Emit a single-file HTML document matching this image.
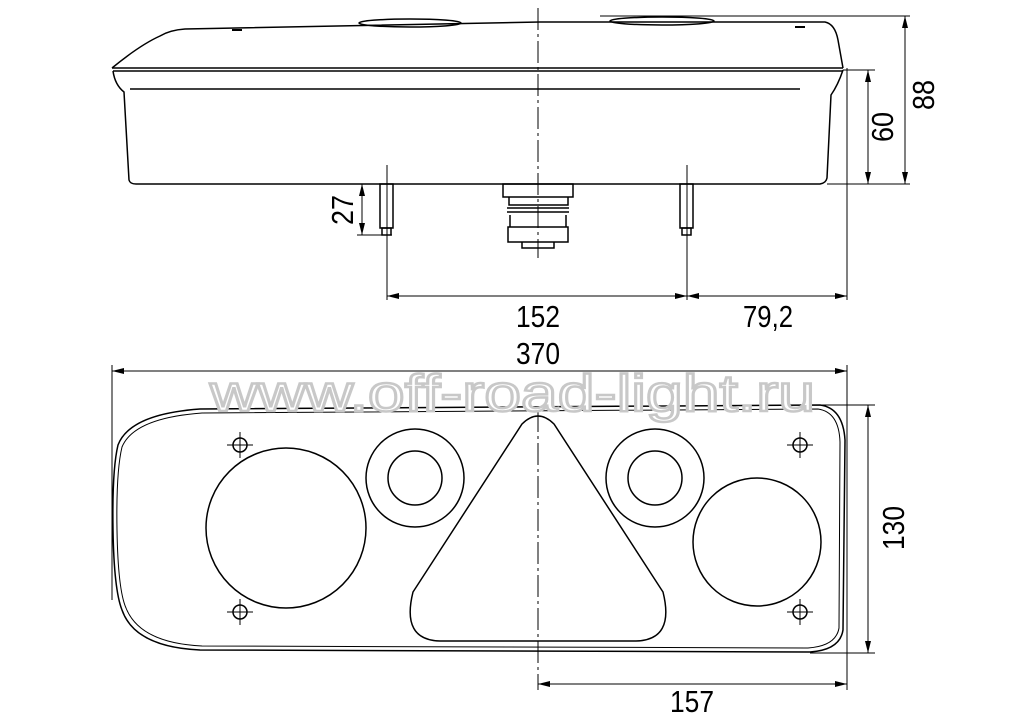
<!DOCTYPE html>
<html><head><style>body{margin:0;background:#fff}svg{display:block}text{font-family:"Liberation Sans",sans-serif}</style></head><body>
<svg width="1024" height="722" viewBox="0 0 1024 722" xmlns="http://www.w3.org/2000/svg">
<defs><marker id="a" viewBox="0 0 12 6" refX="12" refY="3" markerWidth="12" markerHeight="6" orient="auto-start-reverse" markerUnits="userSpaceOnUse"><path d="M0,0L12,3L0,6z" fill="#000"/></marker></defs>
<g fill="none" stroke="#000" stroke-width="1.5">
<path d="M112,68 Q140,45 160,36 Q170,30 185,29 L540,22 L825,22 Q835,24 838,40 L843,68"/>
<path d="M112,68 L843,68"/><path d="M113,71 L843,71"/>
<path d="M130,89 L800,89"/>
<path d="M113,71 Q115,85 124,92 L129,180 Q130,184 136,184 L820,184 Q826,183 827,178 L831,95 Q838,85 843,70"/>
<ellipse cx="410" cy="23" rx="51" ry="4"/><ellipse cx="662" cy="21" rx="52" ry="4"/>
<path d="M232,30 h10 M795,27 h10" stroke-width="2"/>
<rect x="380" y="184" width="13" height="44"/><rect x="382" y="228" width="9" height="7"/>
<rect x="680" y="184" width="13" height="44"/><rect x="682" y="228" width="9" height="7"/>
<rect x="503" y="184" width="70" height="13"/>
<path d="M509,197 L509,205 L568,205 L568,197 M507,208 h62 M507,212 h62 M510,215 L510,227 M566,215 L566,227"/>
<path d="M508,227 h60 v15 h-60z M522,242 v6 h32 v-6"/>
<path d="M538,8 V258 M538,410 V690" stroke-width="1" stroke-dasharray="22,4,3,4"/>
<path d="M387,165 V300 M687,165 V300" stroke-width="1"/>
<g stroke-width="1">
<path d="M387,296 H687" marker-start="url(#a)" marker-end="url(#a)"/>
<path d="M687,296 H847" marker-start="url(#a)" marker-end="url(#a)"/>
<path d="M847,68 V300"/>
<path d="M843,70 H875 M827,184 H910 M838,16 H910 M600,16 H840"/>
<path d="M868,70 V184" marker-start="url(#a)" marker-end="url(#a)"/>
<path d="M905,16 V184" marker-start="url(#a)" marker-end="url(#a)"/>
<path d="M357,235 H392"/>
<path d="M362,184 V235" marker-start="url(#a)" marker-end="url(#a)"/>
<path d="M112,365 V600 M847,365 V690"/>
<path d="M112,371 H847" marker-start="url(#a)" marker-end="url(#a)"/>
<path d="M820,405 H875 M810,653 H875"/>
<path d="M868,405 V653" marker-start="url(#a)" marker-end="url(#a)"/>
<path d="M538,684 H847" marker-start="url(#a)" marker-end="url(#a)"/>
</g>
<path d="M200,409 L820,405 Q843,408 845,440 L843,630 Q840,650 810,652 L200,650 Q135,647 122,610 Q114,590 113,530 Q112,470 118,445 Q130,414 200,409 Z"/>
<path d="M202,413 L818,409 Q839,412 840,442 L839,628 Q836,646 808,648 L202,646 Q140,643 126,608 Q118,590 117,530 Q116,472 122,447 Q134,418 202,413 Z" stroke-width="1"/>
<circle cx="286" cy="528" r="80"/>
<circle cx="415" cy="478" r="49"/><circle cx="415" cy="478" r="27"/>
<circle cx="655" cy="478" r="49"/><circle cx="655" cy="478" r="27"/>
<circle cx="757" cy="542" r="64"/>
<path d="M522,424 Q538,408 554,424 L663,592 Q675,640 636,641 L440,641 Q401,640 413,592 Z"/>
<g stroke-width="1.5"><circle cx="240" cy="445" r="7"/><circle cx="240" cy="612" r="7"/><circle cx="800" cy="445" r="7"/><circle cx="800" cy="612" r="7"/></g>
<path d="M227,445 h26 M240,432 v26 M227,612 h26 M240,599 v26 M787,445 h26 M800,432 v26 M787,612 h26 M800,599 v26" stroke-width="1"/>
</g>
<text x="210" y="411" font-size="52" fill="#fff" stroke="#c8c8c8" stroke-width="2.5" textLength="605" lengthAdjust="spacingAndGlyphs">www.off-road-light.ru</text>
<g font-size="31" fill="#000" text-anchor="middle" lengthAdjust="spacingAndGlyphs">
<text x="538" y="327" textLength="44" lengthAdjust="spacingAndGlyphs">152</text>
<text x="768" y="327" textLength="50" lengthAdjust="spacingAndGlyphs">79,2</text>
<text x="538" y="364" textLength="44" lengthAdjust="spacingAndGlyphs">370</text>
<text x="692" y="712" textLength="44" lengthAdjust="spacingAndGlyphs">157</text>
<text transform="translate(353,210) rotate(-90)" textLength="30" lengthAdjust="spacingAndGlyphs">27</text>
<text transform="translate(893,127) rotate(-90)" textLength="30" lengthAdjust="spacingAndGlyphs">60</text>
<text transform="translate(934,95) rotate(-90)" textLength="30" lengthAdjust="spacingAndGlyphs">88</text>
<text transform="translate(904,528) rotate(-90)" textLength="44" lengthAdjust="spacingAndGlyphs">130</text>
</g>
</svg>
</body></html>
